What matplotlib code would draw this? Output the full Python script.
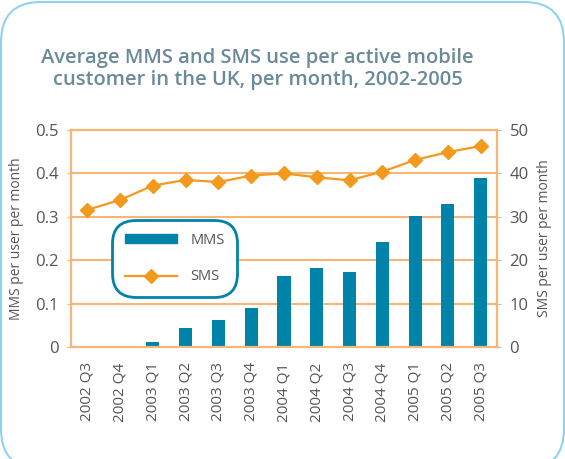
import numpy as np
import matplotlib.pyplot as plt
from matplotlib.patches import FancyBboxPatch, Patch
from matplotlib.lines import Line2D
from matplotlib.transforms import IdentityTransform

plt.rcParams['font.family'] = ['Open Sans', 'DejaVu Sans']

# ── data ──────────────────────────────────
quarters = ["2002 Q3", "2002 Q4", "2003 Q1", "2003 Q2", "2003 Q3", "2003 Q4",
            "2004 Q1", "2004 Q2", "2004 Q3", "2004 Q4", "2005 Q1", "2005 Q2",
            "2005 Q3"]
mms = [0.0, 0.0, 0.012, 0.044, 0.062, 0.09, 0.164, 0.183, 0.173, 0.242,
       0.302, 0.33, 0.39]
sms = [31.6, 33.9, 37.2, 38.5, 38.0, 39.5, 40.0, 39.1, 38.4, 40.4, 43.1,
       44.9, 46.3]

teal = "#0083A9"
orange = "#F39A1E"
grid_c = "#F8B675"
grey = "#555555"

fig = plt.figure(figsize=(5.65, 4.59), dpi=100)

# rounded light blue frame round the whole picture
frame = FancyBboxPatch((1, -10), 563, 467, boxstyle="round,pad=0,rounding_size=40",
                       transform=IdentityTransform(), fill=False,
                       edgecolor="#8FD3EC", linewidth=1.5)
fig.patches.append(frame)

fig.text(0.456, 0.85, "Average MMS and SMS use per active mobile\ncustomer in the UK, per month, 2002-2005",
         ha="center", va="center", fontsize=14.5, fontweight="semibold",
         color="#6A8A9A", linespacing=1.15)

ax = fig.add_axes([0.1257, 0.244, 0.754, 0.4728])
x = np.arange(len(quarters))
ax.bar(x, mms, width=0.4, color=teal, zorder=2)
ax.set_xlim(-0.5, len(quarters) - 0.5)
ax.set_ylim(0, 0.5)
ax.set_yticks(np.arange(0, 0.51, 0.1))
ax.set_yticklabels(["0", "0.1", "0.2", "0.3", "0.4", "0.5"])
ax.set_xticks(x)
ax.set_xticklabels(quarters, rotation=90)
ax.yaxis.grid(True, color=grid_c, linewidth=1.5, zorder=0)
ax.set_axisbelow(True)
for s in ax.spines.values():
    s.set_color(grid_c)
    s.set_linewidth(1.5)
ax.tick_params(axis="y", colors=grid_c, labelcolor=grey, labelsize=12, length=3, pad=6)
ax.tick_params(axis="x", length=0, labelcolor=grey, labelsize=11, pad=11)
ax.set_ylabel("MMS per user per month", color=grey, fontsize=10, labelpad=8)

ax2 = ax.twinx()
ax2.plot(x, sms, color=orange, linewidth=1.6, marker="D", markersize=6.8, zorder=3)
ax2.set_ylim(0, 50)
ax2.set_yticks(np.arange(0, 51, 10))
for s in ax2.spines.values():
    s.set_color(grid_c)
    s.set_linewidth(1.5)
ax2.tick_params(axis="y", colors=grid_c, labelcolor=grey, labelsize=12, length=3, pad=6)
ax2.set_ylabel("SMS per user per month", color=grey, fontsize=10, labelpad=6)

handles = [Patch(color=teal),
           Line2D([0], [0], color=orange, linewidth=1.6, marker="D", markersize=6.8)]
leg = ax2.legend(handles, ["MMS", "SMS"], loc="center", bbox_to_anchor=(0.243, 0.408),
                 fontsize=10.5, handlelength=3.6, handleheight=0.6, labelspacing=1.5,
                 borderpad=0.85, handletextpad=0.9, fancybox=True, framealpha=1)
for t in leg.get_texts():
    t.set_color(grey)
fr = leg.get_frame()
fr.set_edgecolor(teal)
fr.set_linewidth(2)
fr.set_boxstyle("round,pad=0,rounding_size=1.6")

fig.savefig("out.png", dpi=100)
